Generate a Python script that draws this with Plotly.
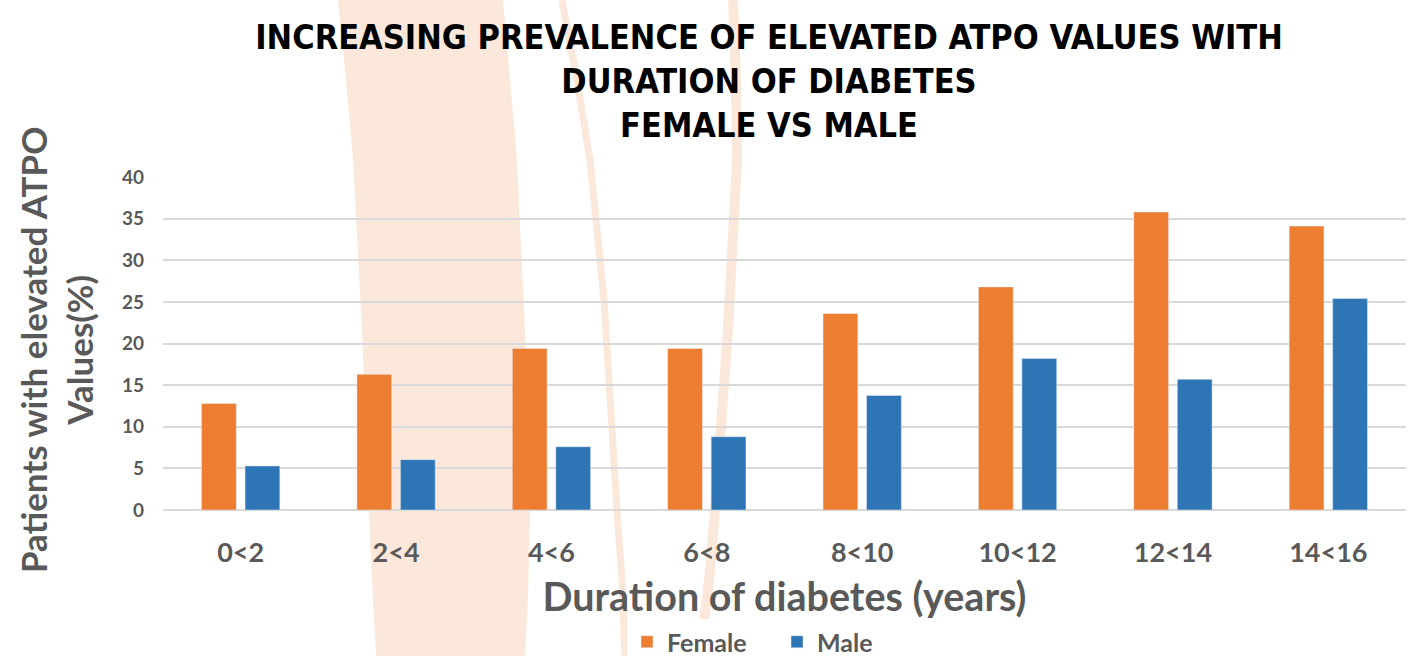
import plotly.graph_objects as go

categories = ["0<2", "2<4", "4<6", "6<8", "8<10", "10<12", "12<14", "14<16"]
female = [12.8, 16.3, 19.4, 19.4, 23.6, 26.8, 35.8, 34.1]
male = [5.3, 6.05, 7.6, 8.8, 13.75, 18.2, 15.7, 25.4]
y_ticks = [0, 5, 10, 15, 20, 25, 30, 35, 40]

W, H = 1426, 656
L, R, T, B = 163, 1406, 177, 510

def px(x, y):
    return (x - L) / (R - L), (B - y) / (B - T)

def path(points, close=False):
    s = ""
    for i, (x, y) in enumerate(points):
        xp, yp = px(x, y)
        s += ("M" if i == 0 else " L") + f" {xp:.4f} {yp:.4f}"
    if close:
        s += " Z"
    return s

PEACH = "#FCE8DA"
GRAY = "#595959"
FONT = "Lato, 'Open Sans', sans-serif"

fig = go.Figure()
fig.add_trace(go.Bar(name="Female", x=categories, y=female, marker_color="#ED7D31"))
fig.add_trace(go.Bar(name="Male", x=categories, y=male, marker_color="#2E75B6"))

shapes = [
    dict(type="path", xref="paper", yref="paper", layer="below",
         path=path([(338, 0), (346, 80), (353, 160), (362, 330), (369, 510), (372, 580), (376, 656),
                    (525, 656), (528, 600), (530, 510), (525, 330), (517, 160), (510, 80), (503, 0)], True),
         fillcolor=PEACH, line=dict(width=0)),
    dict(type="path", xref="paper", yref="paper", layer="below",
         path=path([(562, 0), (577, 80), (590, 160), (604, 300), (617, 510), (622, 580), (625, 656)]),
         line=dict(color=PEACH, width=7)),
    dict(type="path", xref="paper", yref="paper", layer="below",
         path=path([(733, 0), (736, 80), (737, 160), (728, 330), (715, 510), (709, 580), (700, 656)]),
         line=dict(color=PEACH, width=10)),
]

annotations = [
    dict(text="Patients with elevated ATPO<br>Values(%)", xref="paper", yref="paper",
         x=px(56, 0)[0], y=px(0, 350)[1], xanchor="center", yanchor="middle",
         textangle=-90, showarrow=False,
         font=dict(family=FONT, size=35, color=GRAY, weight="bold")),
]

fig.update_layout(
    width=W, height=H,
    margin=dict(l=L, r=W - R, t=T, b=H - B, autoexpand=False),
    paper_bgcolor="white", plot_bgcolor="rgba(0,0,0,0)",
    barmode="group", bargap=0.44, bargroupgap=0.2,
    title=dict(text="INCREASING PREVALENCE OF ELEVATED ATPO VALUES WITH<br>DURATION OF DIABETES<br>FEMALE VS MALE",
               x=769 / W, xanchor="center", y=1 - 49 / H, yanchor="middle",
               font=dict(family="'Liberation Sans Narrow', 'DejaVu Sans Condensed', sans-serif",
                         size=34, color="black", weight="bold")),
    xaxis=dict(title=dict(text="Duration of diabetes (years)", standoff=21,
                          font=dict(family=FONT, size=39.5, color=GRAY, weight="bold")),
               tickfont=dict(family=FONT, size=27, color=GRAY, weight="bold"),
               showline=False, showgrid=False, ticks="", ticklabelstandoff=24, automargin=False),
    yaxis=dict(range=[0, 40], tickvals=y_ticks, showgrid=True, gridcolor="#D9D9D9", gridwidth=1.5,
               zeroline=True, zerolinecolor="#D9D9D9", zerolinewidth=1.5,
               tickfont=dict(family=FONT, size=19, color=GRAY, weight="bold"),
               ticks="", ticklabelstandoff=18, automargin=False),
    legend=dict(orientation="h", x=777 / W, xref="container", xanchor="center",
                y=(H - 642) / H, yref="container", yanchor="middle",
                font=dict(family=FONT, size=25, color=GRAY, weight="bold"),
                itemwidth=30, entrywidth=105, entrywidthmode="pixels", traceorder="normal"),
    shapes=shapes, annotations=annotations,
    showlegend=True,
)

fig.write_html("out.html", config={"displayModeBar": False},
               post_script="document.body.style.margin='0';document.body.style.padding='0';")
